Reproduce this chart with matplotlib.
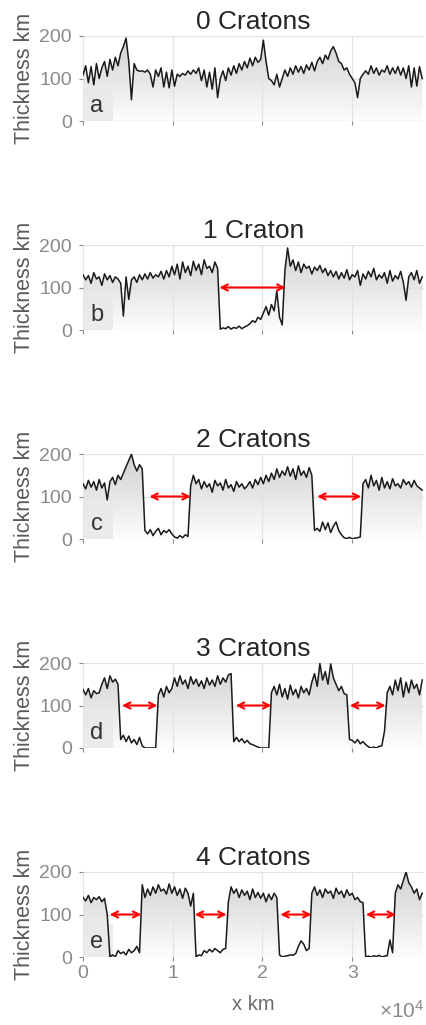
import numpy as np
import matplotlib
matplotlib.use("Agg")
import matplotlib.pyplot as plt
from matplotlib.colors import LinearSegmentedColormap
from matplotlib.patches import Rectangle

plt.rcParams['font.family'] = ['Liberation Sans', 'DejaVu Sans']
plt.rcParams['mathtext.fontset'] = 'custom'
plt.rcParams['mathtext.rm'] = 'Liberation Sans'

# sampling step along the profile (km)
step_km = 300

titles = ["0 Cratons", "1 Craton", "2 Cratons", "3 Cratons", "4 Cratons"]
letters = ["a", "b", "c", "d", "e"]

thick_a = [108, 130, 90, 128, 85, 135, 100,
           125, 140, 105, 145, 120, 150, 130, 160,
           175, 195, 140, 50, 135,
           120, 117, 118, 115, 120, 110,
           80, 120, 105, 125, 80, 115, 78, 120, 82, 110,
           105, 112, 108, 118, 110, 120, 112, 125,
           95, 120, 80, 115, 75, 125, 55, 100,
           118, 95, 125, 108, 130, 112, 135, 120, 140, 125, 148, 130, 150, 138, 145,
           190, 140, 100, 95, 85, 110, 80, 100,
           120, 105, 125, 110, 130, 115, 128, 112, 132, 120, 138, 118, 140,
           150, 135, 155, 145, 165, 175,
           160, 140, 135, 120, 125, 110,
           100, 90, 55, 100, 110,
           118, 110, 130, 112, 125, 108, 120, 115, 130, 110, 125, 112, 128, 108,
           125, 100, 130, 80, 125, 82, 128, 100]

thick_b = [130, 118, 128, 110, 135, 120, 125, 105, 132, 118, 128, 112, 125,
           120, 110, 33, 125, 72, 118,
           125, 112, 130, 118, 132, 120, 135, 122, 130, 125, 138, 120,
           140, 125, 150, 130, 155, 120, 160, 135, 150, 128, 162, 140, 155, 130,
           165, 145, 150, 135, 160,
           145, 2,
           5, 3, 8, 2, 6, 4, 9, 3, 7, 10,
           15, 22, 18, 30, 25,
           40, 55, 35, 60, 45, 92, 30, 12,
           140, 193,
           150, 165, 140, 160, 135, 155, 145, 150, 132, 148, 140, 152, 135, 145,
           128, 140, 125, 138, 120, 135, 122, 142, 118, 130,
           125, 140, 105, 132, 120, 138, 125, 145, 118, 130,
           122, 135, 110, 140, 115, 128, 120, 138, 112,
           70, 125, 135, 118, 140, 110, 125]

thick_c = [130, 118, 138, 122, 135, 115, 140, 120, 132, 92,
           135, 145, 128, 150, 140, 155,
           170, 185, 200, 175,
           160, 175, 165,
           20,
           12, 22, 8, 18, 25, 10, 20, 15, 22, 12,
           5, 2, 8, 3, 10, 6,
           125,
           150, 130, 140, 118, 135, 122, 130, 110, 138, 125, 132, 115, 140, 120,
           128, 112, 135, 122, 130, 118,
           125, 135, 120, 140, 128, 145, 130, 150, 135, 155, 140, 165, 145, 160, 150,
           170, 148, 165, 140, 172, 150, 160, 145, 168, 150,
           20,
           25, 18, 40, 22, 38, 15, 30, 40, 20, 10,
           3, 1, 4, 0, 2, 3,
           5, 130,
           140, 120, 150, 125, 138, 115, 145, 120, 135, 118, 142, 125, 130, 120,
           140, 128, 135, 122, 138, 125, 120, 115]

thick_d = [138, 125, 140, 118, 135, 128, 130,
           150, 165, 140, 170, 155, 162, 150,
           20,
           30, 15, 28, 12, 20, 8, 25, 5,
           0, 0, 0, 0, 0,
           125,
           140, 120, 145, 130, 140,
           165, 145, 170, 150, 160, 140, 168, 150, 162, 145, 158, 140, 165, 148,
           160, 145, 170, 150, 165, 155, 172, 175,
           15,
           25, 15, 22, 12, 18, 10, 8, 5,
           2, 0, 0, 0, 0,
           130,
           145, 125, 150, 120, 140, 115, 148, 125, 138, 118, 145, 130, 140, 125,
           155, 175, 145, 199, 160, 180, 150, 198, 165,
           150, 135, 145, 128, 125,
           20,
           18, 12, 20, 10, 15, 8,
           3, 0, 2, 0, 4, 5,
           40, 130,
           145, 125, 160, 135, 165, 120, 155, 130, 160, 140, 150, 125, 160]

thick_e = [140, 132, 145, 128, 140, 135, 142, 130, 138,
           100, 0,
           5, 0, 15, 8, 12, 5, 18, 10, 15, 25, 10,
           170,
           140, 160, 145, 165, 150, 170, 155, 160, 148, 172, 150, 165, 145, 160,
           138, 162, 150, 120,
           150, 0,
           5, 3, 15, 10, 18, 12, 20, 15, 10, 18,
           20, 130,
           165, 150, 160, 140, 158, 145, 155, 135, 160, 140, 152, 138, 150, 130,
           148, 135, 150, 140,
           5,
           0, 2, 3, 5, 4, 8, 25, 38, 30, 15,
           20, 150,
           165, 145, 158, 140, 160, 150, 155, 138, 162, 148, 155, 140, 158, 145,
           150, 135, 140,
           130, 128,
           0,
           2, 0, 3, 1, 4, 0, 2, 3,
           40, 10,
           150,
           170, 160, 180, 200, 175, 165, 150, 160, 135, 150]

profiles = [thick_a, thick_b, thick_c, thick_d, thick_e]

# craton gaps marked with arrows at 100 km depth: (start, end) in km
gaps = [
    [],
    [(15200, 22570)],
    [(7400, 12000), (26100, 31000)],
    [(4350, 8290), (17030, 21000), (29740, 33720)],
    [(2970, 6500), (12450, 16000), (22000, 25460), (31520, 34870)],
]

x_ticks = [0, 10000, 20000, 30000]
x_tick_labels = ["0", "1", "2", "3"]
y_ticks = [0, 100, 200]
x_max = 38000
y_max = 200
arrow_level = 100

W, H = 427, 1025
fig = plt.figure(figsize=(W / 100, H / 100), dpi=100)

grad_cmap = LinearSegmentedColormap.from_list("shade", ["#fdfdfd", "#d0d0d0"])
tick_gray = "#8a8a8a"

for k in range(5):
    top_px = 36 + 209 * k
    ax = fig.add_axes([83 / W, 1 - (top_px + 85) / H, 341 / W, 85 / H])
    y = np.array(profiles[k], dtype=float)
    x = np.arange(len(y)) * step_km

    grad = np.linspace(0, 1, 256).reshape(-1, 1)
    im = ax.imshow(grad, extent=[0, x_max, 0, y_max], origin="lower",
                   aspect="auto", cmap=grad_cmap, zorder=0.5)
    poly = ax.fill_between(x, y, 0, color="none", lw=0)
    im.set_clip_path(poly.get_paths()[0], transform=ax.transData)

    ax.add_patch(Rectangle((0, 0), 3330, 78, facecolor="#e8e8e8",
                           edgecolor="none", alpha=0.8, zorder=0.8))
    ax.text(1550, 36, letters[k], fontsize=17, color="#333333",
            ha="center", va="center", zorder=3)

    ax.plot(x, y, color="#1a1a1a", lw=1.1, zorder=2)

    for x1, x2 in gaps[k]:
        ax.annotate("", xy=(x2, arrow_level), xytext=(x1, arrow_level),
                    arrowprops=dict(arrowstyle="<->", color="red", lw=1.5,
                                    shrinkA=0, shrinkB=0, mutation_scale=11),
                    zorder=4)

    ax.set_xlim(0, x_max)
    ax.set_ylim(0, y_max)
    ax.set_axisbelow("line")
    ax.grid(True, color="#e3e3e3", lw=0.9)
    for s in ax.spines.values():
        s.set_visible(False)
    ax.set_yticks(y_ticks)
    ax.set_xticks(x_ticks)
    ax.tick_params(axis="both", colors=tick_gray, labelcolor=tick_gray,
                   length=3, width=0.8, direction="out", labelsize=14, pad=3)
    ax.tick_params(axis="y", pad=5)
    if k < 4:
        ax.set_xticklabels([])
    else:
        ax.set_xticklabels(x_tick_labels)
        ax.set_xlabel("x km", fontsize=14.5, color="#6b6b6b", labelpad=9)
    ax.set_title(titles[k], fontsize=19, color="#262626", pad=5)
    ax.set_ylabel("Thickness km", fontsize=15.5, color="#5a5a5a", labelpad=3)

fig.text(424 / W, 1 - 1022 / H, r"$\times\mathregular{10^4}$", fontsize=15,
         color=tick_gray, ha="right", va="bottom")

fig.savefig("out.png", dpi=100)
